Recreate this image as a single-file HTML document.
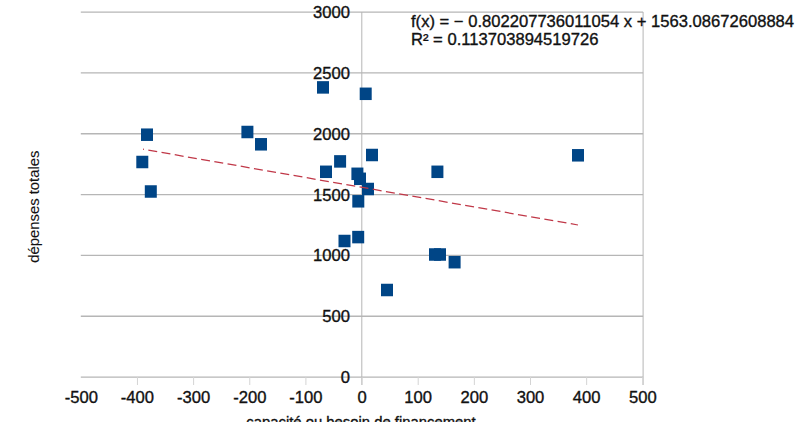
<!DOCTYPE html>
<html><head><meta charset="utf-8"><style>
html,body{margin:0;padding:0;background:#fff;width:802px;height:422px;overflow:hidden}
svg{display:block}
text{font-family:"Liberation Sans",sans-serif;fill:#111;stroke:#111;stroke-width:0.35px}
</style></head><body>
<svg width="802" height="422" viewBox="0 0 802 422">
<g>
<line x1="80.8" y1="377.10" x2="643.1" y2="377.10" stroke="#b6b6b6" stroke-width="1.3"/>
<line x1="80.8" y1="316.26" x2="643.1" y2="316.26" stroke="#b6b6b6" stroke-width="1.3"/>
<line x1="80.8" y1="255.42" x2="643.1" y2="255.42" stroke="#b6b6b6" stroke-width="1.3"/>
<line x1="80.8" y1="194.58" x2="643.1" y2="194.58" stroke="#b6b6b6" stroke-width="1.3"/>
<line x1="80.8" y1="133.74" x2="643.1" y2="133.74" stroke="#b6b6b6" stroke-width="1.3"/>
<line x1="80.8" y1="72.90" x2="643.1" y2="72.90" stroke="#b6b6b6" stroke-width="1.3"/>
<line x1="80.8" y1="12.06" x2="643.1" y2="12.06" stroke="#b6b6b6" stroke-width="1.3"/>
<line x1="643.1" y1="12" x2="643.1" y2="385" stroke="#b6b6b6"/>
<line x1="361.8" y1="12" x2="361.8" y2="385" stroke="#b6b6b6"/>
<line x1="137.45" y1="377" x2="137.45" y2="385" stroke="#d4d4d4"/>
<line x1="193.60" y1="377" x2="193.60" y2="385" stroke="#d4d4d4"/>
<line x1="249.75" y1="377" x2="249.75" y2="385" stroke="#d4d4d4"/>
<line x1="305.90" y1="377" x2="305.90" y2="385" stroke="#d4d4d4"/>
<line x1="362.05" y1="377" x2="362.05" y2="385" stroke="#d4d4d4"/>
<line x1="418.20" y1="377" x2="418.20" y2="385" stroke="#d4d4d4"/>
<line x1="474.35" y1="377" x2="474.35" y2="385" stroke="#d4d4d4"/>
<line x1="530.50" y1="377" x2="530.50" y2="385" stroke="#d4d4d4"/>
<line x1="586.65" y1="377" x2="586.65" y2="385" stroke="#d4d4d4"/>
<line x1="642.80" y1="377" x2="642.80" y2="385" stroke="#d4d4d4"/>
</g><g>
<rect x="141.00" y="128.45" width="12" height="12.5" fill="#004586"/>
<rect x="136.30" y="155.75" width="12" height="12.5" fill="#004586"/>
<rect x="144.80" y="185.25" width="12" height="12.5" fill="#004586"/>
<rect x="241.40" y="125.75" width="12" height="12.5" fill="#004586"/>
<rect x="255.00" y="138.05" width="12" height="12.5" fill="#004586"/>
<rect x="317.00" y="81.15" width="12" height="12.5" fill="#004586"/>
<rect x="359.70" y="87.55" width="12" height="12.5" fill="#004586"/>
<rect x="320.00" y="165.55" width="12" height="12.5" fill="#004586"/>
<rect x="334.10" y="155.15" width="12" height="12.5" fill="#004586"/>
<rect x="366.00" y="148.75" width="12" height="12.5" fill="#004586"/>
<rect x="351.40" y="167.55" width="12" height="12.5" fill="#004586"/>
<rect x="354.00" y="172.55" width="12" height="12.5" fill="#004586"/>
<rect x="362.00" y="182.75" width="12" height="12.5" fill="#004586"/>
<rect x="352.30" y="195.05" width="12" height="12.5" fill="#004586"/>
<rect x="431.40" y="165.55" width="12" height="12.5" fill="#004586"/>
<rect x="572.00" y="149.05" width="12" height="12.5" fill="#004586"/>
<rect x="338.50" y="234.75" width="12" height="12.5" fill="#004586"/>
<rect x="352.20" y="230.85" width="12" height="12.5" fill="#004586"/>
<rect x="429.00" y="248.25" width="12" height="12.5" fill="#004586"/>
<rect x="434.00" y="248.25" width="12" height="12.5" fill="#004586"/>
<rect x="448.60" y="255.95" width="12" height="12.5" fill="#004586"/>
<rect x="381.00" y="283.75" width="12" height="12.5" fill="#004586"/>
<line x1="143" y1="149.2" x2="578" y2="225.0" stroke="#c03848" stroke-width="1.25" stroke-dasharray="9 4.4" stroke-dashoffset="8"/>
</g>
<text x="350" y="383.1" text-anchor="end" font-size="16.6">0</text>
<text x="350" y="322.3" text-anchor="end" font-size="16.6">500</text>
<text x="350" y="261.4" text-anchor="end" font-size="16.6">1000</text>
<text x="350" y="200.6" text-anchor="end" font-size="16.6">1500</text>
<text x="350" y="139.7" text-anchor="end" font-size="16.6">2000</text>
<text x="350" y="78.9" text-anchor="end" font-size="16.6">2500</text>
<text x="350" y="18.1" text-anchor="end" font-size="16.6">3000</text>
<text x="81.3" y="402.8" text-anchor="middle" font-size="16.6">-500</text>
<text x="137.4" y="402.8" text-anchor="middle" font-size="16.6">-400</text>
<text x="193.6" y="402.8" text-anchor="middle" font-size="16.6">-300</text>
<text x="249.8" y="402.8" text-anchor="middle" font-size="16.6">-200</text>
<text x="305.9" y="402.8" text-anchor="middle" font-size="16.6">-100</text>
<text x="362.1" y="402.8" text-anchor="middle" font-size="16.6">0</text>
<text x="418.2" y="402.8" text-anchor="middle" font-size="16.6">100</text>
<text x="474.4" y="402.8" text-anchor="middle" font-size="16.6">200</text>
<text x="530.5" y="402.8" text-anchor="middle" font-size="16.6">300</text>
<text x="586.6" y="402.8" text-anchor="middle" font-size="16.6">400</text>
<text x="642.8" y="402.8" text-anchor="middle" font-size="16.6">500</text>
<text x="411" y="26.5" font-size="16.6">f(x) = − 0.802207736011054 x + 1563.08672608884</text>
<text x="411" y="45" font-size="16.6">R² = 0.113703894519726</text>
<text x="0" y="0" font-size="14.85" text-anchor="middle" style="stroke-width:0.1px" transform="translate(38.5 206.7) rotate(-90)">dépenses totales</text>
<text x="361" y="427" font-size="14.85" text-anchor="middle">capacité ou besoin de financement</text>
</svg>
</body></html>
